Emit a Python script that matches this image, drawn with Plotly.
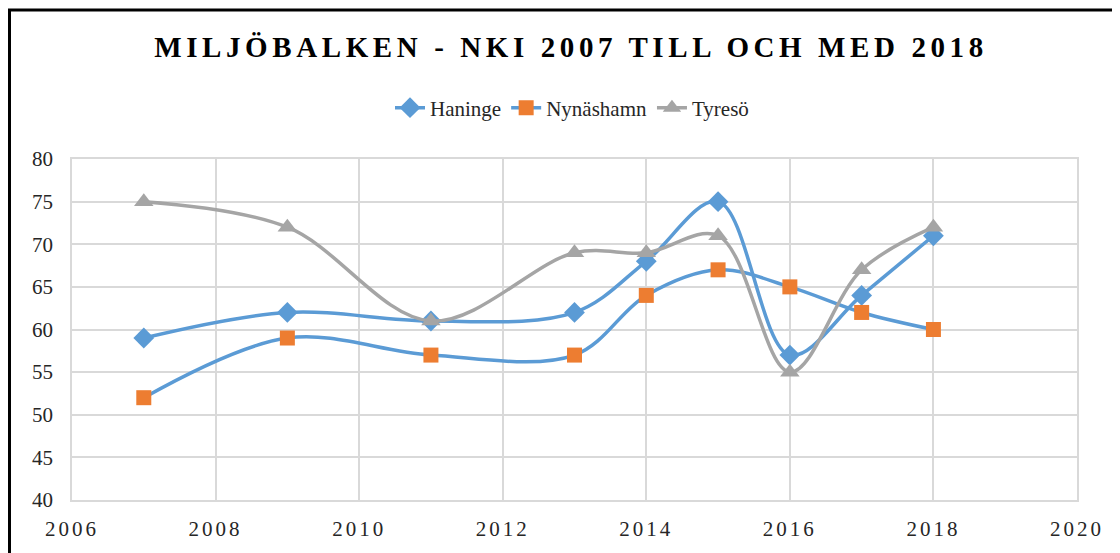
import plotly.graph_objects as go

years = [2007, 2009, 2011, 2013, 2014, 2015, 2016, 2017, 2018]
haninge = [59, 62, 61, 62, 68, 75, 57, 64, 71]
nynashamn = [52, 59, 57, 57, 64, 67, 65, 62, 60]
tyreso = [75, 72, 61, 69, 69, 71, 55, 67, 72]
x_ticks = [2006, 2008, 2010, 2012, 2014, 2016, 2018, 2020]

BLUE = "#5B9BD5"
ORANGE = "#ED7D31"
GRAY = "#A5A5A5"
FONT = "Liberation Serif"

W, H = 1112, 545
L, R, T, B = 64, 43, 151, 53

fig = go.Figure()
fig.add_trace(go.Scatter(
    x=years, y=haninge, name="Haninge", mode="lines+markers",
    line=dict(color=BLUE, width=3.5, shape="spline", smoothing=1.0),
    marker=dict(symbol="diamond", size=16, color=BLUE)))
fig.add_trace(go.Scatter(
    x=years, y=nynashamn, name="Nynäshamn", mode="lines+markers",
    line=dict(color=BLUE, width=3.5, shape="spline", smoothing=1.0),
    marker=dict(symbol="square", size=15, color=ORANGE)))
fig.add_trace(go.Scatter(
    x=years, y=tyreso, name="Tyresö", mode="lines+markers",
    line=dict(color=GRAY, width=3.5, shape="spline", smoothing=1.0),
    marker=dict(symbol="triangle-up", size=17, color=GRAY)))

fig.update_layout(
    width=W, height=H,
    margin=dict(l=L, r=R, t=T, b=B),
    paper_bgcolor="white", plot_bgcolor="white",
    font=dict(family=FONT, size=20, color="#262626"),
    title=dict(
        text='<span style="letter-spacing:4.6px"><b>MILJÖBALKEN - NKI 2007 TILL OCH MED 2018</b></span>',
        x=(571 - 8) / W, xanchor="center", y=1 - 39 / H, yanchor="middle",
        font=dict(family=FONT, size=29, color="black")),
    legend=dict(orientation="h", x=(572 - 8 - L) / (W - L - R), xanchor="center",
                y=(H - B - 100) / (H - T - B), yanchor="middle",
                font=dict(family=FONT, size=21, color="#262626"),
                tracegroupgap=0),
    showlegend=True,
)
fig.update_xaxes(range=[2006, 2020], tickvals=x_ticks,
                 ticktext=['<span style="letter-spacing:3px">%d</span>' % v for v in x_ticks],
                 showgrid=True,
                 gridcolor="#D9D9D9", gridwidth=1.5, zeroline=False,
                 showline=True, linecolor="#D9D9D9", linewidth=1.5, mirror=True,
                 ticks="", ticklabelstandoff=9,
                 tickfont=dict(family=FONT, size=21, color="#262626"))
fig.update_yaxes(range=[40, 80], dtick=5, showgrid=True,
                 gridcolor="#D9D9D9", gridwidth=1.5, zeroline=False,
                 showline=True, linecolor="#D9D9D9", linewidth=1.5, mirror=True,
                 ticks="", ticklabelstandoff=13,
                 tickfont=dict(family=FONT, size=21, color="#262626"))

fig.add_shape(type="rect", xref="paper", yref="paper",
              x0=(1.5 - L) / (W - L - R), x1=1.2, y0=-0.5,
              y1=(H - B - 2) / (H - T - B),
              line=dict(color="black", width=3), fillcolor="rgba(0,0,0,0)",
              layer="above")

fig.write_html("out.html")
